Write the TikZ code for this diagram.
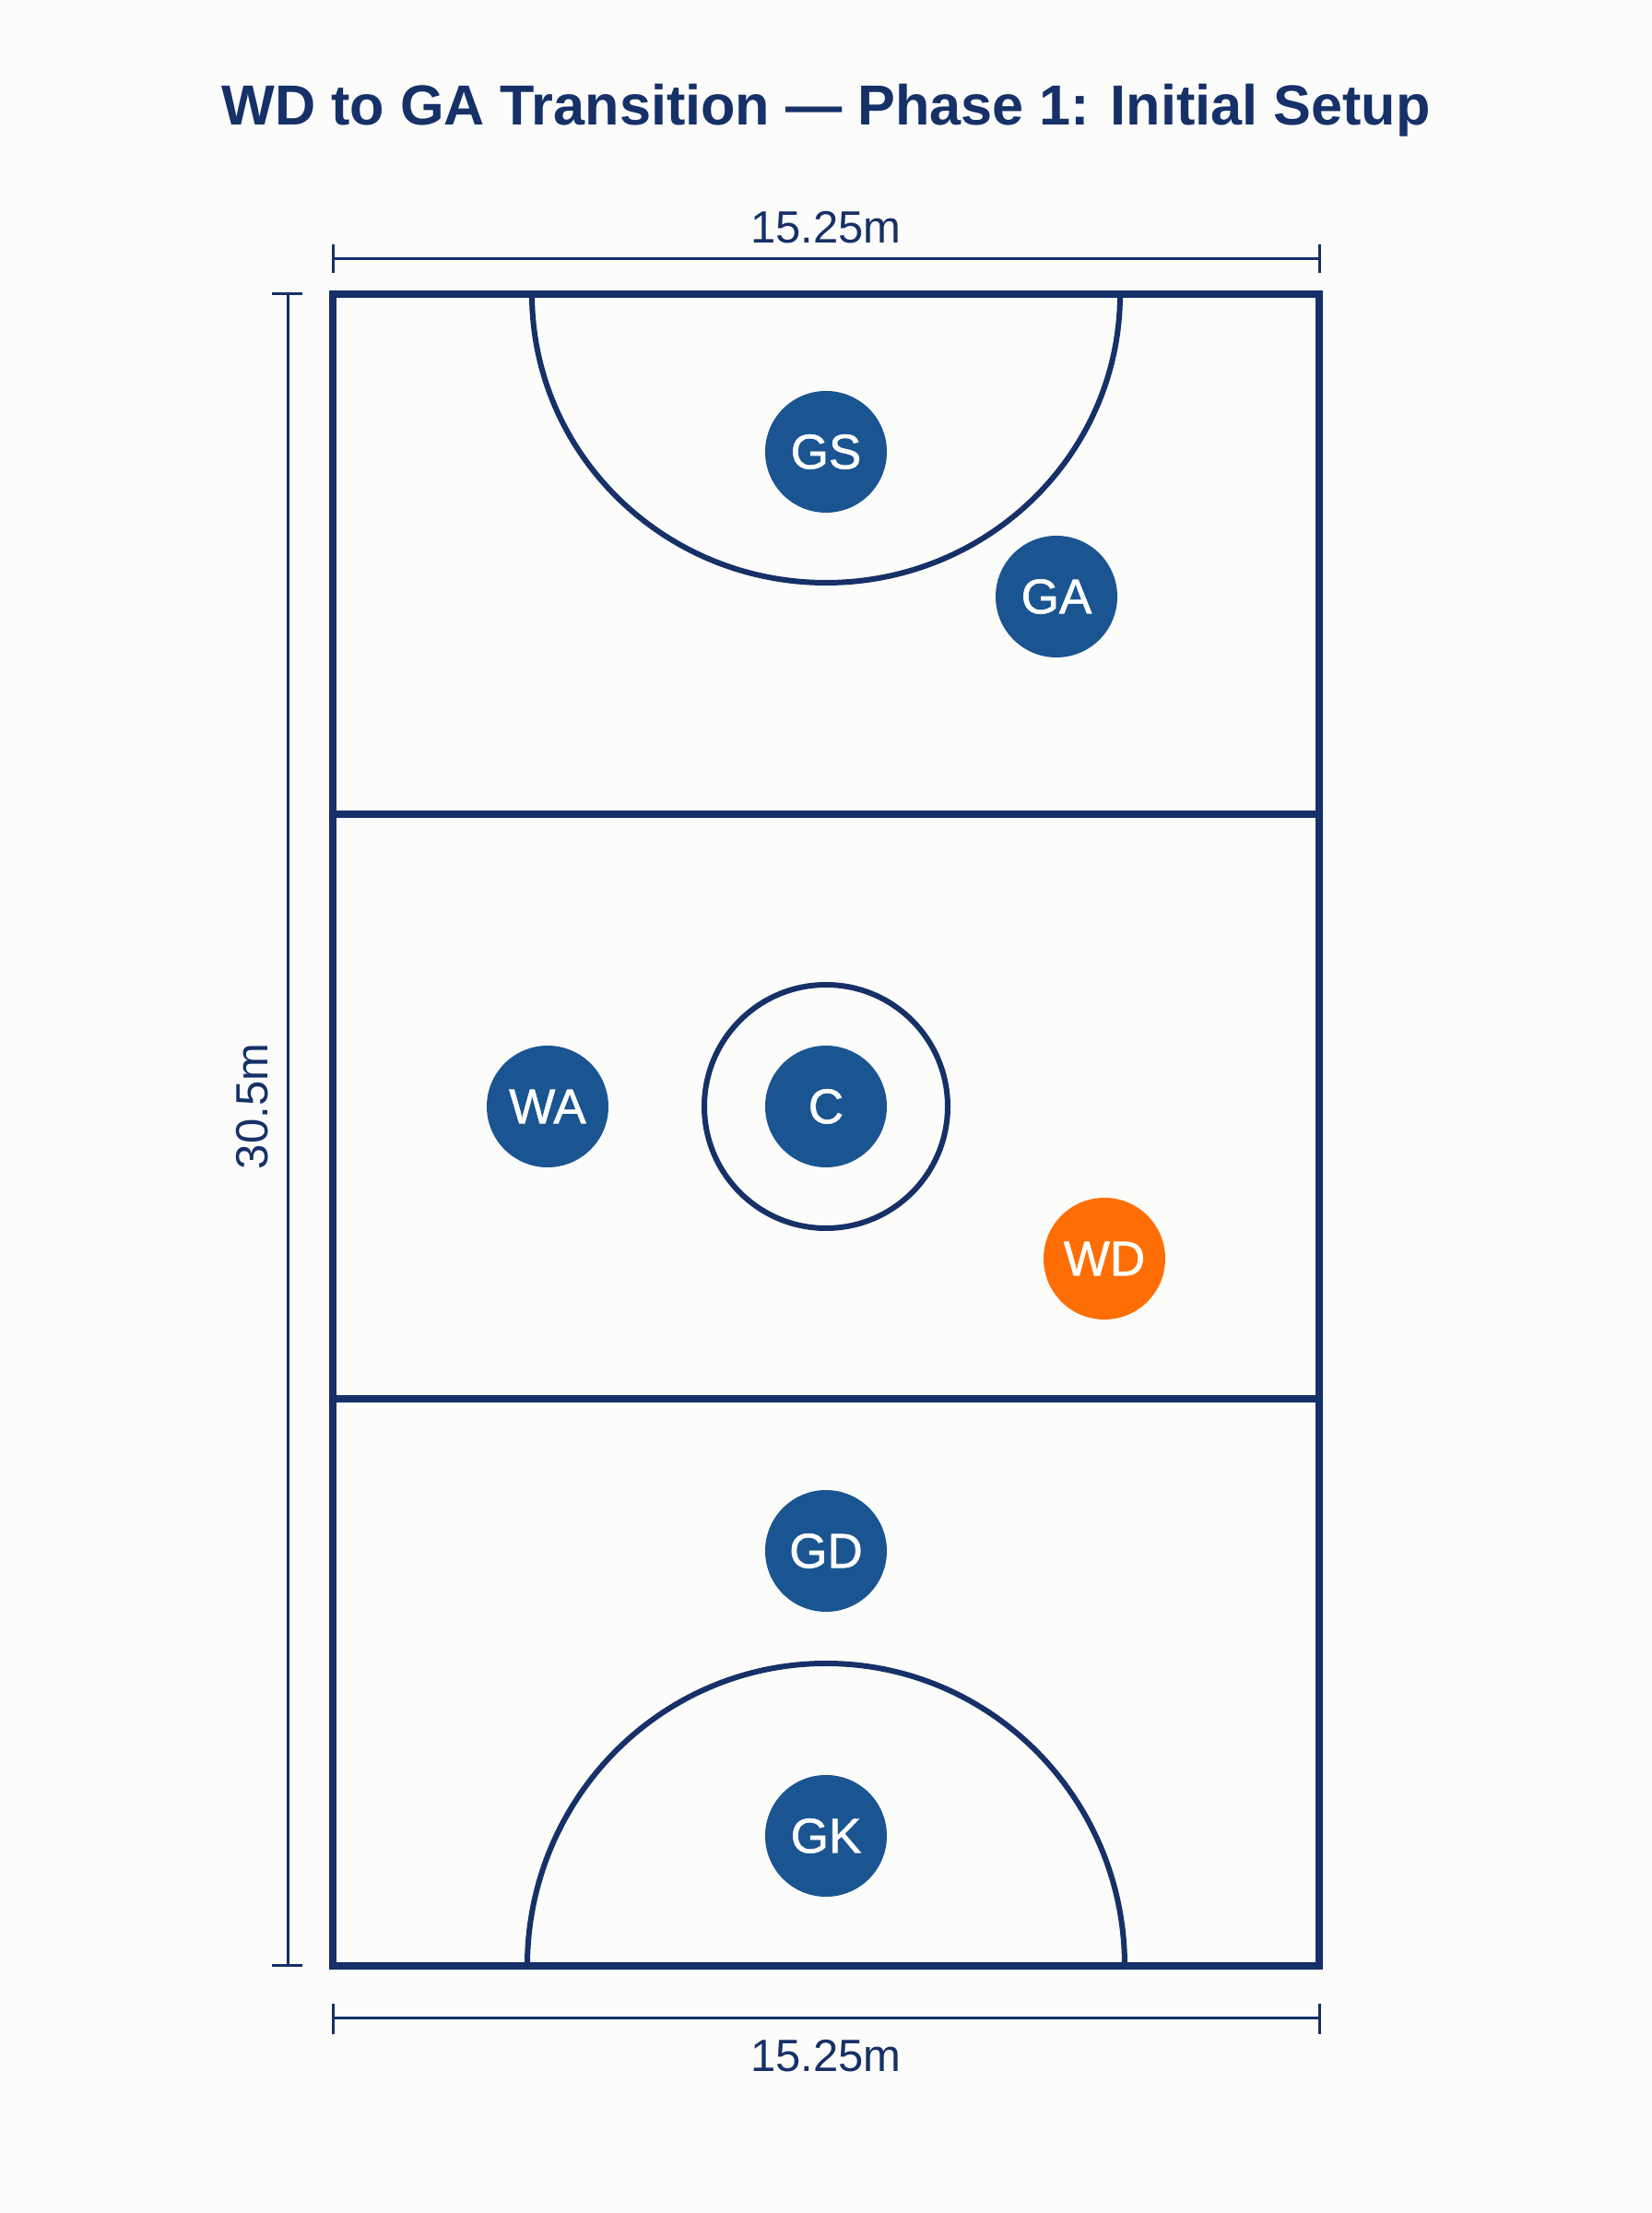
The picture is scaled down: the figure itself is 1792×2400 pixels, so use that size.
\documentclass[tikz,border=0pt]{standalone}
\usepackage{fontspec}
\setmainfont{Liberation Sans}
\newfontfamily\playerfont[FakeBold=1.2]{Liberation Sans}
\usepackage{tikz}
\definecolor{courtnavy}{RGB}{22,48,104}
\definecolor{playerblue}{RGB}{26,85,145}
\definecolor{wdorange}{RGB}{255,110,5}
\definecolor{paper}{RGB}{252,252,250}

\begin{document}
\begin{tikzpicture}[x=0.5pt, y=0.5pt,
  player/.style={circle, fill=playerblue, minimum size=66pt, inner sep=0pt, text=white, font=\playerfont\fontsize{26.5}{30}\selectfont},
  courtline/.style={color=courtnavy, line width=3.8pt},
  arcline/.style={color=courtnavy, line width=3pt},
  dimline/.style={color=courtnavy, line width=1.5pt},
  dimlabel/.style={color=courtnavy, font=\fontsize{24.5}{28}\selectfont}]
          \fill[paper] (0,0) rectangle (1792,2400);
          \useasboundingbox (0,0) rectangle (1792,2400);
          \coordinate (tl) at (361,2081);
          \coordinate (br) at (1431,268);
          \coordinate (t1l) at (361,1517);
          \coordinate (t1r) at (1431,1517);
          \coordinate (t2l) at (361,883);
          \coordinate (t2r) at (1431,883);
          \coordinate (topl) at (361,2119);
          \coordinate (topr) at (1431,2119);
          \coordinate (botl) at (361,211);
          \coordinate (botr) at (1431,211);
          \coordinate (lt) at (312,2081);
          \coordinate (lb) at (312,268);
          \coordinate (mid) at (896,1200);
          \node[color=courtnavy, font=\bfseries\fontsize{30.6}{36}\selectfont] (title) at (896,2280) {WD to GA Transition — Phase 1: Initial Setup};
          \draw[courtline] (tl) rectangle (br);
          \draw[courtline] (t1l) -- (t1r);
          \draw[courtline] (t2l) -- (t2r);
          \draw[arcline] (577,2081) arc[start angle=180, end angle=360, x radius=319, y radius=313];
          \draw[arcline] (572,268) arc[start angle=180, end angle=0, x radius=324, y radius=328];
          \draw[arcline] (mid) circle[radius=132];
          \draw[dimline] (topl) -- (topr);
          \draw[dimline] (botl) -- (botr);
          \draw[dimline] (lt) -- (lb);
          \foreach \x in {361,1431}
          {
          \draw[dimline] (\x,2104) -- (\x,2135);
          \draw[dimline] (\x,194) -- (\x,227);
          }
          \foreach \y in {268,2081}
          \draw[dimline] (295,\y) -- (328,\y);
          \node[dimlabel] (wtop) at (896,2153) {15.25m};
          \node[dimlabel] (wbot) at (896,170) {15.25m};
          \node[dimlabel, rotate=90] (len) at (274,1200) {30.5m};
          \node[player] (gs) at (896,1910) {GS};
          \node[player] (ga) at (1146,1753) {GA};
          \node[player] (wa) at (594,1200) {WA};
          \node[player] (c) at (mid) {C};
          \node[player, fill=wdorange] (wd) at (1198,1035) {WD};
          \node[player] (gd) at (896,718) {GD};
          \node[player] (gk) at (896,409) {GK};
        \end{tikzpicture}
\end{document}
